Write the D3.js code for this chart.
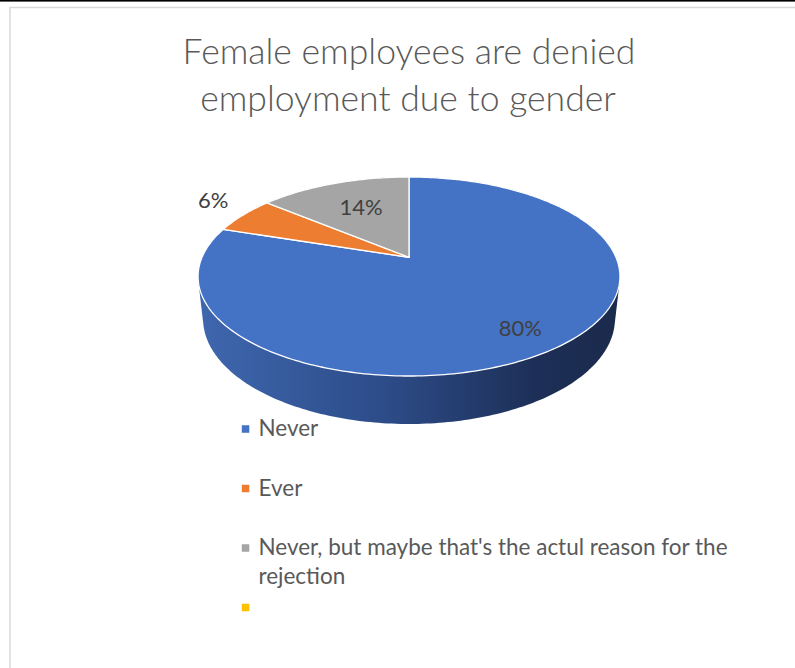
<!DOCTYPE html>
<html>
<head>
<meta charset="utf-8">
<script src="https://cdn.jsdelivr.net/npm/d3@7"></script>
<style>
  html, body { margin: 0; padding: 0; background: #ffffff; }
  svg { display: block; }
</style>
</head>
<body>
<script>
// ---- data ----
const titleLines = ["Female employees are denied", "employment due to gender"];
const categories = ["Never", "Ever", "Never, but maybe that's the actul reason for the rejection", ""];
const values = [80, 6, 14, 0];
const colors = ["#4472c4", "#ed7d31", "#a5a5a5", "#ffc000"];

// ---- layout ----
const W = 795, H = 668;
const FONT = "Lato, 'Open Sans', 'Noto Sans', sans-serif";
const svg = d3.select("body").append("svg").attr("width", W).attr("height", H);

svg.append("rect").attr("width", W).attr("height", H).attr("fill", "#ffffff");
svg.append("rect").attr("x", 10).attr("y", 7.5).attr("width", 820).attr("height", 720)
  .attr("fill", "none").attr("stroke", "#d9d9d9").attr("stroke-width", 1.5);
svg.append("rect").attr("x", 0).attr("y", 0).attr("width", W).attr("height", 1.6).attr("fill", "#000");

// perspective projection of the 3D pie
const cx = 409, cy = 257.3;
const sinA = 0.4628, cosA = 0.886, D = 4.59, F = 950, T = 0.2325;
function proj(theta, r, h) {
  const X = r * Math.sin(theta), Z = r * Math.cos(theta);
  const yc = Z * sinA + h * cosA;
  const depth = D + Z * cosA - h * sinA;
  return [cx + F * X / depth, cy - F * yc / depth];
}
function arcPts(a0, a1, h) {
  const n = Math.max(2, Math.ceil((a1 - a0) / (Math.PI / 180)));
  return d3.range(n + 1).map(i => proj(a0 + (a1 - a0) * i / n, 1, h));
}

const pie = d3.pie().sort(null).value(d => d).startAngle(0).endAngle(2 * Math.PI);
const arcs = pie(values);
const total = d3.sum(values);

// side wall gradient
const defs = svg.append("defs");
const grad = defs.append("linearGradient").attr("id", "side")
  .attr("gradientUnits", "userSpaceOnUse").attr("x1", 198).attr("x2", 621).attr("y1", 0).attr("y2", 0);
[[0, "#3f67af"], [0.45, "#2c4b87"], [0.8, "#1d2f57"], [1, "#1b2a4c"]]
  .forEach(([o, c]) => grad.append("stop").attr("offset", o).attr("stop-color", c));

const ring = arcPts(0, 2 * Math.PI, 0).concat(arcPts(0, 2 * Math.PI, -T));
const hull = d3.polygonHull(ring);
svg.append("path").attr("d", "M" + hull.join("L") + "Z").attr("fill", "url(#side)");

// top face slices
const apex = proj(0, 0, 0);
svg.append("g").selectAll("path").data(arcs.filter(a => a.value > 0)).join("path")
  .attr("d", a => "M" + [apex].concat(arcPts(a.startAngle, a.endAngle, 0)).join("L") + "Z")
  .attr("fill", a => colors[a.index])
  .attr("stroke", "#ffffff").attr("stroke-width", 1.3).attr("stroke-linejoin", "round");

// data labels
const labelPlace = [{ r: 0.8, dy: 0 }, { r: 1.2, dy: -7 }, { r: 0.6, dy: -3 }];
const fmt = d3.format(".0%");
svg.append("g").selectAll("text").data(arcs.filter(a => a.value > 0)).join("text")
  .attr("x", a => proj((a.startAngle + a.endAngle) / 2, labelPlace[a.index].r, 0)[0])
  .attr("y", a => proj((a.startAngle + a.endAngle) / 2, labelPlace[a.index].r, 0)[1] + labelPlace[a.index].dy + 8)
  .attr("text-anchor", "middle")
  .attr("font-family", FONT).attr("font-size", 22).attr("fill", "#404040")
  .text(a => fmt(a.value / total));

// title
let tfs = 36;
const title = svg.append("g").attr("font-family", FONT).attr("font-weight", 300).attr("fill", "#595959");
const t1 = title.append("text").attr("x", 409).attr("y", 63.5).attr("text-anchor", "middle")
  .attr("font-size", tfs).text(titleLines[0]);
tfs = tfs * 453 / t1.node().getComputedTextLength();
t1.attr("font-size", tfs);
title.append("text").attr("x", 408).attr("y", 111).attr("text-anchor", "middle")
  .attr("font-size", tfs).text(titleLines[1]);

// legend
const ly = d3.scalePoint().domain(d3.range(categories.length)).range([429, 607.5]);
const leg = svg.append("g").attr("font-family", FONT).attr("fill", "#595959");
const meas = leg.append("text").attr("x", -1000).attr("y", -1000);
function wrap(str, fs, maxW) {
  meas.attr("font-size", fs);
  const words = str.split(" ").filter(w => w.length);
  const lines = []; let cur = "";
  words.forEach(w => {
    const test = cur ? cur + " " + w : w;
    meas.text(test);
    if (meas.node().getComputedTextLength() > maxW && cur) { lines.push(cur); cur = w; }
    else cur = test;
  });
  if (cur) lines.push(cur);
  return lines;
}
function width(str, fs) { meas.attr("font-size", fs).text(str); return meas.node().getComputedTextLength(); }
const maxLegendW = 490;
let lfs = 21;
for (let k = 0; k < 4; k++) {
  const lines = wrap(categories[2], lfs, maxLegendW);
  lfs = Math.min(24, Math.max(16, lfs * 469 / width(lines[0], lfs)));
}

const legendLines = categories.map(c => c ? wrap(c, lfs, maxLegendW) : []);
meas.remove();

categories.forEach((c, i) => {
  const y = ly(i);
  leg.append("rect").attr("x", 241.8).attr("y", y - 3.75).attr("width", 7.5).attr("height", 7.5)
    .attr("fill", colors[i]);
  if (!legendLines[i].length) return;
  const t = leg.append("text").attr("font-size", lfs);
  legendLines[i].forEach((ln, j) => t.append("tspan").attr("x", 258.5).attr("y", y + 7 + j * 29.3).text(ln));
});
</script>
</body>
</html>
